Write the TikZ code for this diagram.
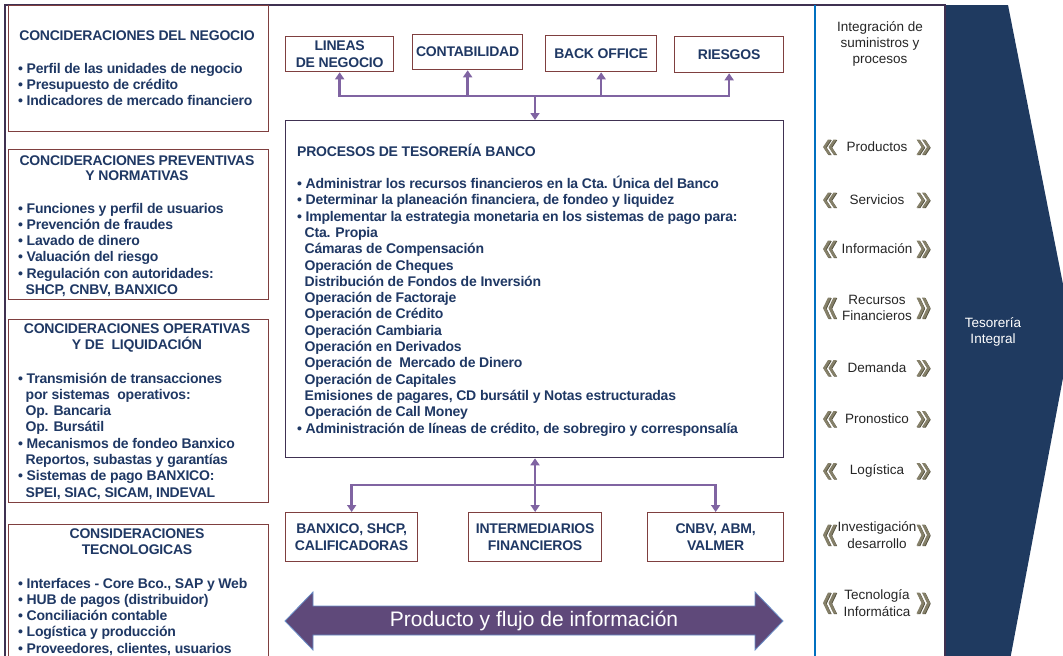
\documentclass[tikz,border=0pt]{standalone}
\usepackage{fontspec}
\setmainfont{Liberation Sans}
\usetikzlibrary{arrows.meta}
\definecolor{navy}{HTML}{1F3864}
\definecolor{boxred}{HTML}{7F3F3F}
\definecolor{boxnavy}{HTML}{403152}
\definecolor{framec}{HTML}{3F3151}
\definecolor{conpurple}{HTML}{8064A2}
\definecolor{arrfill}{HTML}{5F497A}
\definecolor{arrborder}{HTML}{6A8FC8}
\definecolor{bluel}{HTML}{0070C0}
\definecolor{tesblue}{HTML}{1F3A60}
\definecolor{chevc}{HTML}{858069}
\definecolor{chevs}{HTML}{55523F}
\definecolor{txtdark}{HTML}{262626}
\newcommand{\blt}{\makebox[8.5pt][l]{•}}
\newcommand{\cnt}{\hspace*{7.5pt}}
\newcommand{\txtrows}[6]{% #1 prefix, #2 x, #3 first baseline, #4 step, #5 anchor, #6 list
  \foreach \l [count=\i from 0] in {#6} {\node[btxt,anchor=#5] (#1\i) at (#2,{#3+#4*\i}) {\l};}}
\newcommand{\chevL}[4]{% x tip, y, h, style
  \fill[#4] (#1,#2) -- ++(5,{-#3/2}) -- ++(3,0) -- ++(-5,{#3/2}) -- ++(5,{#3/2}) -- ++(-3,0) -- cycle;}
\newcommand{\chevR}[4]{%
  \fill[#4] (#1,#2) -- ++(-5,{-#3/2}) -- ++(-3,0) -- ++(5,{#3/2}) -- ++(-5,{#3/2}) -- ++(3,0) -- cycle;}
\newcommand{\chevpair}[2]{% y, h
  \chevL{823.7}{#1+0.7}{#2}{chevs}\chevL{829.2}{#1+0.7}{#2}{chevs}
  \chevR{930.7}{#1+0.7}{#2}{chevs}\chevR{925.2}{#1+0.7}{#2}{chevs}
  \chevL{823}{#1}{#2}{chevc}\chevL{828.5}{#1}{#2}{chevc}
  \chevR{930}{#1}{#2}{chevc}\chevR{924.5}{#1}{#2}{chevc}}
\begin{document}
\begin{tikzpicture}[x=1pt,y=-1pt,
  lbox/.style={draw=boxred,line width=1.3pt,inner sep=0,anchor=north west},
  mbox/.style={draw=boxnavy,line width=1.3pt,inner sep=0,anchor=north west},
  btxt/.style={text=navy,font=\bfseries\fontsize{14}{16.3}\selectfont\addfontfeature{LetterSpace=-1.5},inner sep=0},
  rtxt/.style={text=txtdark,font=\fontsize{13.5}{16.3}\selectfont,inner sep=0,align=center},
  conn/.style={draw=conpurple,line width=2.6pt,-{Triangle[width=9pt,length=7pt]}}]
\useasboundingbox (0,0) rectangle (1063,656);
\clip (0,0) rectangle (1063,656);
\fill[white] (0,0) rectangle (1063,656);
% dark blue arrow
\fill[tesblue] (945,5) -- (1008,5) -- (1072,330) -- (1010,660) -- (945,660) -- cycle;
\node[text=white,font=\fontsize{13.5}{16.5}\selectfont,align=center,inner sep=0] (tes) at (993,332) {Tesorería\\Integral};
% frame
\draw[framec,line width=2pt] (5,660) -- (5,5) -- (945,5) -- (945,660);
\draw[bluel,line width=2pt] (815,5) -- (815,660);
% left boxes
\node[lbox,minimum width=260pt,minimum height=126pt] (b1) at (8,5) {};
\node[lbox,minimum width=260pt,minimum height=150pt] (b2) at (8,149) {};
\node[lbox,minimum width=260pt,minimum height=183pt] (b3) at (8,319) {};
\node[lbox,minimum width=260pt,minimum height=140pt] (b4) at (8,524) {};
\txtrows{ta}{137}{40}{16}{base}{CONCIDERACIONES DEL NEGOCIO}
\txtrows{la}{18}{73}{16.3}{base west}{\blt Perfil de las unidades de negocio,\blt Presupuesto de crédito,\blt Indicadores de mercado financiero}
\txtrows{tb}{137}{165}{15.5}{base}{CONCIDERACIONES PREVENTIVAS,Y NORMATIVAS}
\txtrows{lb}{18}{213}{16.3}{base west}{\blt Funciones y perfil de usuarios,\blt Prevención de fraudes,\blt Lavado de dinero,\blt Valuación del riesgo,\blt Regulación con autoridades:,{\cnt SHCP, CNBV, BANXICO}}
\txtrows{tc}{137}{333}{16.5}{base}{CONCIDERACIONES OPERATIVAS,Y DE \ LIQUIDACIÓN}
\txtrows{lc}{18}{383}{16.3}{base west}{\blt Transmisión de transacciones,\cnt por sistemas \ operativos:,\cnt Op. Bancaria,\cnt Op. Bursátil,\blt Mecanismos de fondeo Banxico,{\cnt Reportos, subastas y garantías},\blt Sistemas de pago BANXICO:,{\cnt SPEI, SIAC, SICAM, INDEVAL}}
\txtrows{td}{137}{538}{16.5}{base}{CONSIDERACIONES,TECNOLOGICAS}
\txtrows{ld}{18}{588}{16.3}{base west}{{\blt Interfaces - Core Bco., SAP y Web},\blt HUB de pagos (distribuidor),\blt Conciliación contable,\blt Logística y producción,{\blt Proveedores, clientes, usuarios}}
% top boxes
\node[lbox,btxt,align=center,minimum width=108pt,minimum height=35pt] (t1) at (285,36) {LINEAS\\DE NEGOCIO};
\node[lbox,btxt,align=center,minimum width=110pt,minimum height=35pt] (t2) at (412,34) {CONTABILIDAD};
\node[lbox,btxt,align=center,minimum width=111pt,minimum height=36pt] (t3) at (545,35) {BACK OFFICE};
\node[lbox,btxt,align=center,minimum width=109pt,minimum height=36pt] (t4) at (674,36) {RIESGOS};
% main box
\node[mbox,minimum width=498pt,minimum height=337pt] (mb) at (285,120) {};
\txtrows{mt}{297}{156}{16}{base west}{PROCESOS DE TESORERÍA BANCO}
\txtrows{ml}{297}{188.5}{16.3}{base west}{\blt Administrar los recursos financieros en la Cta. Única del Banco,{\blt Determinar la planeación financiera, de fondeo y liquidez},\blt Implementar la estrategia monetaria en los sistemas de pago para:,\cnt Cta. Propia,\cnt Cámaras de Compensación,\cnt Operación de Cheques,\cnt Distribución de Fondos de Inversión,\cnt Operación de Factoraje,\cnt Operación de Crédito,\cnt Operación Cambiaria,\cnt Operación en Derivados,\cnt Operación de \ Mercado de Dinero,\cnt Operación de Capitales,{\cnt Emisiones de pagares, CD bursátil y Notas estructuradas},\cnt Operación de Call Money,{\blt Administración de líneas de crédito, de sobregiro y corresponsalía}}
% bottom boxes
\node[lbox,btxt,align=center,minimum width=132pt,minimum height=49pt] (u1) at (285,512) {BANXICO, SHCP,\\CALIFICADORAS};
\node[lbox,btxt,align=center,minimum width=133pt,minimum height=49pt] (u2) at (468,512) {INTERMEDIARIOS\\FINANCIEROS};
\node[lbox,btxt,align=center,minimum width=136pt,minimum height=49pt] (u3) at (647,512) {CNBV, ABM,\\VALMER};
% connectors
\coordinate (jt) at (535,96);
\coordinate (jb) at (535,485);
\draw[conn] (jt) -- (mb.north -| jt);
\foreach \b in {t1,t2,t3,t4} \draw[conn] (jt) -| (\b.south);
\draw[conn] (jb) -- (mb.south -| jb);
\foreach \b in {u1,u2,u3} \draw[conn] (jb) -| (\b.north);
% double arrow
\fill[arrfill,draw=arrborder,line width=0.8pt] (285,621) -- (313,592) -- (313,606) -- (755,606) -- (755,592) -- (783,621) -- (755,650) -- (755,635) -- (313,635) -- (313,650) -- cycle;
\node[text=white,font=\fontsize{21}{24}\selectfont,inner sep=0] (flow) at (534,621) {Producto y flujo de información};
% right column
\node[rtxt] (int) at (880,44) {Integración de\\suministros y\\procesos};
\node[rtxt] (r1) at (877,147) {Productos};
\node[rtxt] (r2) at (877,200) {Servicios};
\node[rtxt] (r3) at (877,249) {Información};
\node[rtxt] (r4) at (877,308) {Recursos\\Financieros};
\node[rtxt] (r5) at (877,368) {Demanda};
\node[rtxt] (r6) at (877,419) {Pronostico};
\node[rtxt] (r7) at (877,471) {Logística};
\node[rtxt] (r8) at (877,535) {Investigación\\desarrollo};
\node[rtxt] (r9) at (877,603) {Tecnología\\Informática};
\chevpair{147}{15}
\chevpair{200}{15}
\chevpair{249}{17}
\chevpair{308}{21}
\chevpair{368}{16}
\chevpair{419}{16}
\chevpair{471}{16}
\chevpair{535}{21}
\chevpair{603}{21}
\end{tikzpicture}
\end{document}
